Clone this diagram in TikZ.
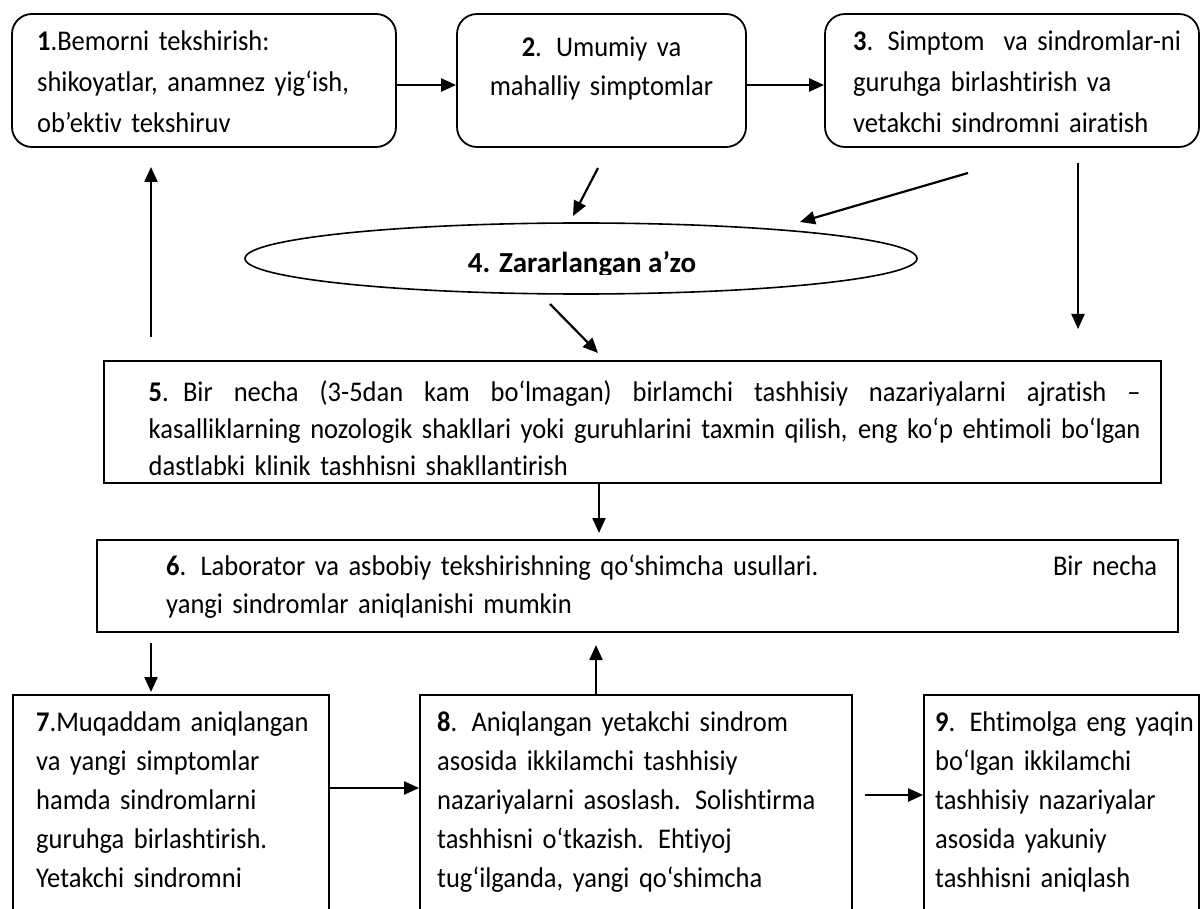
\documentclass[tikz,border=0pt]{standalone}
\usepackage{fontspec}
\setmainfont{Carlito}[FakeStretch=0.93, Ligatures=NoCommon]
\newfontfamily\ovalfont{Carlito}[Ligatures=NoCommon]
\usetikzlibrary{shapes.geometric,arrows.meta}
\newcommand{\jline}[1]{\makebox[\linewidth][s]{\spaceskip=\fontdimen2\font plus 1fil\relax #1}}
\tikzset{
  rbox/.style={draw, line width=1.8pt, rounded corners=20pt, inner sep=0pt},
  sbox/.style={draw, line width=1.8pt, inner sep=0pt},
  oval/.style={draw, ellipse, line width=1.6pt, inner sep=0pt},
  txt/.style={inner sep=0pt, anchor=base west, align=left},
  arr/.style={line width=2.2pt, -{Triangle[length=15pt,width=13pt]}},
}
\begin{document}
\begin{tikzpicture}[x=1pt,y=-1pt]
\useasboundingbox (0,0) rectangle (1202,909);
\fill[white] (0,0) rectangle (1202,909);
\clip (0,0) rectangle (1202,909);

% boxes
\node[rbox, minimum width=384pt, minimum height=133pt] (b1) at (204,80.5) {};
\node[rbox, minimum width=289pt, minimum height=133pt] (b2) at (601.5,80.5) {};
\node[rbox, minimum width=374pt, minimum height=133pt] (b3) at (1012,80.5) {};
\node[oval, minimum width=672pt, minimum height=71pt] (e4) at (581,258.5) {};
\node[sbox, minimum width=1057pt, minimum height=122pt] (b5) at (632.5,422) {};
\node[sbox, minimum width=1081pt, minimum height=92pt] (b6) at (637.5,586) {};
\node[sbox, minimum width=316pt, minimum height=250pt] (b7) at (171,820) {};
\node[sbox, minimum width=432pt, minimum height=250pt] (b8) at (636,820) {};
\node[sbox, minimum width=275pt, minimum height=250pt] (b9) at (1061.5,820) {};

% texts
\node[txt, text width=350pt, font=\fontsize{28.5}{41}\selectfont] (t1) at (37,51)
  {\textbf{1}.Bemorni tekshirish:\\shikoyatlar, anamnez yig‘ish,\\ob’ektiv tekshiruv};
\node[inner sep=0pt, anchor=base, align=center, text width=280pt, font=\fontsize{28.5}{39}\selectfont] (t2) at (601.5,57)
  {\textbf{2}. Umumiy va\\mahalliy simptomlar};
\node[txt, text width=345pt, font=\fontsize{28.5}{41}\selectfont] (t3) at (853,51)
  {\textbf{3}. Simptom\ \ va sindromlar-ni\\guruhga birlashtirish va\\vetakchi sindromni airatish};
\begin{scope}
\clip (200,200) rectangle (960,275);
\node[inner sep=0pt, anchor=base, font=\ovalfont\fontsize{29}{34}\selectfont\bfseries] (t4) at (582,273) {4. Zararlangan a’zo};
\end{scope}
\node[txt, text width=992pt, font=\fontsize{28.5}{37}\selectfont] (t5) at (148.5,401)
  {\jline{\textbf{5}. Bir necha (3-5dan kam bo‘lmagan) birlamchi tashhisiy nazariyalarni ajratish –}\\
   \jline{kasalliklarning nozologik shakllari yoki guruhlarini taxmin qilish, eng ko‘p ehtimoli bo‘lgan}\\
   dastlabki klinik tashhisni shakllantirish};
\node[txt, text width=991pt, font=\fontsize{28.5}{38}\selectfont] (t6) at (166,575)
  {\makebox[\linewidth][l]{\textbf{6}. Laborator va asbobiy tekshirishning qo‘shimcha usullari.\hfill Bir necha}\\
   yangi sindromlar aniqlanishi mumkin};
\node[txt, text width=300pt, font=\fontsize{28.5}{39}\selectfont] (t7) at (36,731)
  {\textbf{7}.Muqaddam aniqlangan\\va yangi simptomlar\\hamda sindromlarni\\guruhga birlashtirish.\\Yetakchi sindromni};
\node[txt, text width=410pt, font=\fontsize{28.5}{39}\selectfont] (t8) at (437,731)
  {\textbf{8}. Aniqlangan yetakchi sindrom\\asosida ikkilamchi tashhisiy\\nazariyalarni asoslash. Solishtirma\\tashhisni o‘tkazish. Ehtiyoj\\tug‘ilganda, yangi qo‘shimcha};
\node[txt, text width=262pt, font=\fontsize{28.5}{39}\selectfont] (t9) at (935,731)
  {\textbf{9}. Ehtimolga eng yaqin\\bo‘lgan ikkilamchi\\tashhisiy nazariyalar\\asosida yakuniy\\tashhisni aniqlash};

% free arrow ends
\coordinate (a24s) at (598,168);  \coordinate (a24e) at (573,216);
\coordinate (a34s) at (968,173);  \coordinate (a34e) at (800,222);
\coordinate (a45s) at (550,304);  \coordinate (a45e) at (598,353);
\coordinate (a35s) at (1078,163); \coordinate (a35e) at (1078,329);
\coordinate (a51s) at (151,337);  \coordinate (a51e) at (151,167);
\coordinate (a56s) at (599,484);  \coordinate (a56e) at (599,533);
\coordinate (a67s) at (151,643);  \coordinate (a67e) at (151,692);
\coordinate (a86s) at (596,694);  \coordinate (a86e) at (596,645);
\coordinate (c78) at (329,788);
\coordinate (a89s) at (865,795);

% connectors
\draw[arr] ([yshift=-4.5pt]b1.east) -- ([yshift=-4.5pt]b2.west);
\draw[arr] ([yshift=-4.5pt]b2.east) -- ([yshift=-4.5pt]b3.west);
\draw[arr] (a24s) -- (a24e);
\draw[arr] (a34s) -- (a34e);
\draw[arr] (a45s) -- (a45e);
\draw[arr] (a35s) -- (a35e);
\draw[arr] (a51s) -- (a51e);
\draw[arr] (a56s) -- (a56e);
\draw[arr] (a67s) -- (a67e);
\draw[arr] (a86s) -- (a86e);
\draw[arr] (b7.east |- c78) -- (b8.west |- c78);
\draw[arr] (a89s) -- (b9.west |- a89s);
\end{tikzpicture}
\end{document}
